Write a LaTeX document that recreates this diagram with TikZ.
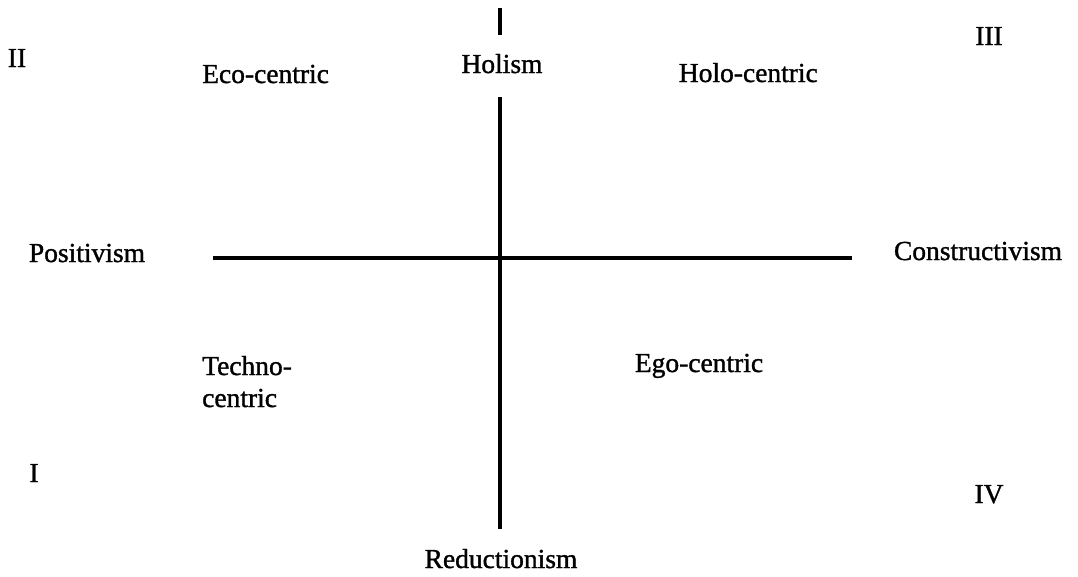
\documentclass[tikz,border=0pt]{standalone}
\usepackage{fontspec}
\setmainfont[FakeBold=1.2]{Liberation Serif}
\begin{document}
\begin{tikzpicture}[x=1pt,y=-1pt,
  lbl/.style={font=\fontsize{27.5}{32}\selectfont, inner sep=0pt, anchor=base},
  axis/.style={line width=3.2pt, black}]
\useasboundingbox[fill=white] (0,0) rectangle (1078,576);
% axis end points
\coordinate (vtop) at (500,8);
\coordinate (vstub) at (500,35);
\coordinate (vmid) at (500,97);
\coordinate (vbot) at (500,529);
\coordinate (hl) at (213,258);
\coordinate (hr) at (852,258);
\draw[axis] (vtop) -- (vstub);
\draw[axis] (vmid) -- (vbot);
\draw[axis] (hl) -- (hr);
% labels
\node[lbl] (holism) at (502,73) {Holism};
\node[lbl] (reduct) at (501,568) {Reductionism};
\node[lbl] (posit) at (87,262) {Positivism};
\node[lbl] (constr) at (978,260) {Constructivism};
\node[lbl, anchor=base west] (eco) at (202,83) {Eco-centric};
\node[lbl, anchor=base east] (holo) at (818,82) {Holo-centric};
\node[lbl, anchor=base west] (techno) at (202,375) {Techno-};
\node[lbl, anchor=base west] (techno2) at (202,407) {centric};
\node[lbl] (ego) at (699,372) {Ego-centric};
\node[lbl] (q2) at (17,67) {II};
\node[lbl] (q3) at (989,45) {III};
\node[lbl] (q1) at (34,482) {I};
\node[lbl] (q4) at (989,503) {IV};
\end{tikzpicture}
\end{document}
